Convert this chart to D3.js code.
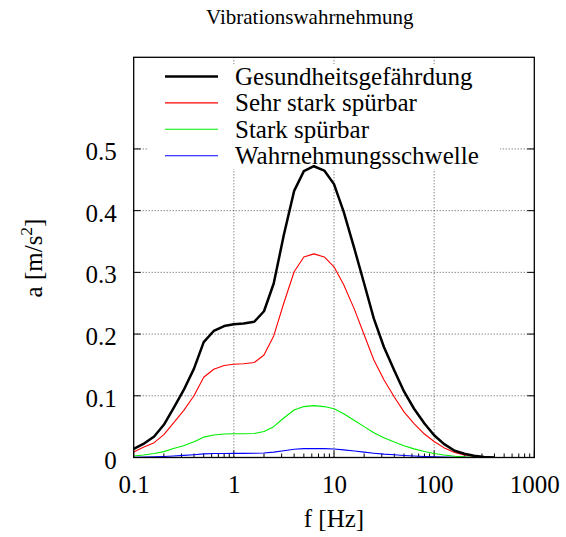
<!DOCTYPE html>
<html><head><meta charset="utf-8">
<script src="https://cdn.jsdelivr.net/npm/d3@7"></script>
<style>
body{margin:0;background:#fff;}
svg{display:block;font-family:"Liberation Serif","DejaVu Serif",serif;}
</style></head>
<body><svg id="c" width="566" height="537"></svg>
<script>
const freqs = [0.1,0.125,0.16,0.2,0.25,0.315,0.4,0.5,0.63,0.8,1,1.25,1.6,2,2.5,3.15,4,5,6.3,8,10,12.5,16,20,25,31.5,40,50,63,80,100,125,160,200,250,315,400];
const gesundheit = [0.014,0.022,0.034,0.053,0.080,0.109,0.144,0.187,0.205,0.213,0.216,0.217,0.220,0.237,0.282,0.360,0.432,0.464,0.472,0.465,0.443,0.398,0.338,0.282,0.225,0.179,0.141,0.107,0.079,0.055,0.036,0.022,0.011,0.006,0.003,0.001,0.0];
const sehrStark = [0.009,0.0165,0.024,0.037,0.056,0.076,0.100,0.130,0.143,0.149,0.151,0.152,0.154,0.166,0.197,0.250,0.301,0.325,0.330,0.325,0.309,0.280,0.240,0.199,0.158,0.126,0.098,0.074,0.055,0.038,0.026,0.016,0.008,0.004,0.002,0.001,0.0];
const stark = [0.0025,0.004,0.0065,0.0095,0.0145,0.019,0.0256,0.033,0.0365,0.038,0.0385,0.0386,0.039,0.042,0.050,0.064,0.077,0.0825,0.084,0.0825,0.079,0.071,0.060,0.050,0.040,0.032,0.025,0.019,0.014,0.0098,0.0065,0.004,0.002,0.001,0.0005,0.0002,0.0];
const schwelle = [0.0004,0.0007,0.001,0.0016,0.0025,0.0034,0.0045,0.0058,0.0064,0.0066,0.0067,0.0067,0.0068,0.0073,0.0087,0.011,0.0134,0.0144,0.0146,0.0144,0.0137,0.0123,0.0105,0.0087,0.007,0.0055,0.0044,0.0033,0.0025,0.0017,0.0011,0.0007,0.0003,0.0002,0.0001,0.0,0.0];
const seriesNames = ["Gesundheitsgefährdung","Sehr stark spürbar","Stark spürbar","Wahrnehmungsschwelle"];
const xTicks = [0.1,1,10,100,1000];
const xTickLabels = ["0.1","1","10","100","1000"];
const yTicks = [0,0.1,0.2,0.3,0.4,0.5];
const yTickLabels = ["0","0.1","0.2","0.3","0.4","0.5"];
const title = "Vibrationswahrnehmung";

const svg = d3.select("#c");
const L=133.7,R=534.3,T=57.3,B=457.5;
const x = d3.scaleLog().domain([0.1,1000]).range([L,R]);
const y = d3.scaleLinear().domain([0,0.6485]).range([B,T]);

// grid
const grid = svg.append("g").attr("stroke","#555").attr("stroke-width",1).attr("stroke-dasharray","1,2");
[1,10,100].forEach(v=>grid.append("line").attr("x1",x(v)).attr("x2",x(v)).attr("y1",T).attr("y2",B));
yTicks.slice(1).forEach(v=>grid.append("line").attr("x1",L).attr("x2",R).attr("y1",y(v)).attr("y2",y(v)));

// legend opaque box
svg.append("rect").attr("x",147).attr("y",64).attr("width",353).attr("height",105).attr("fill","#fff");

// minor ticks x
const minor = [];
for(let d=0.1; d<1000; d*=10){ for(let k=2;k<=9;k++) minor.push(d*k); }
const tk = svg.append("g").attr("stroke","#000").attr("stroke-width",1);
minor.forEach(v=>tk.append("line").attr("x1",x(v)).attr("x2",x(v)).attr("y1",B).attr("y2",B-4));
xTicks.forEach(v=>tk.append("line").attr("x1",x(v)).attr("x2",x(v)).attr("y1",B).attr("y2",B-7));
yTicks.forEach(v=>{
  tk.append("line").attr("x1",L).attr("x2",L+7).attr("y1",y(v)).attr("y2",y(v));
  tk.append("line").attr("x1",R).attr("x2",R-7).attr("y1",y(v)).attr("y2",y(v));
});

// axes labels via d3 axis
const xa = svg.append("g").attr("transform",`translate(0,${B})`)
  .call(d3.axisBottom(x).tickValues(xTicks).tickFormat((d,i)=>xTickLabels[i]).tickSize(0).tickPadding(17.5));
xa.select(".domain").remove();
xa.selectAll("text").attr("font-family","Liberation Serif").attr("font-size",25).attr("fill","#000");
const ya = svg.append("g").attr("transform",`translate(${L},0)`)
  .call(d3.axisLeft(y).tickValues(yTicks).tickFormat((d,i)=>yTickLabels[i]).tickSize(0).tickPadding(17));
ya.select(".domain").remove();
ya.selectAll("text").attr("font-family","Liberation Serif").attr("font-size",25).attr("fill","#000").attr("dy","0.42em");

// lines
const data = [gesundheit,sehrStark,stark,schwelle];
const colors = ["#000","#ff0000","#00ee00","#0000ff"];
const widths = [2.5,1.1,1.1,1.1];
const line = d3.line().x((d,i)=>x(freqs[i])).y(d=>y(d));
svg.append("clipPath").attr("id","pc").append("rect").attr("x",L).attr("y",T).attr("width",R-L).attr("height",B-T);
[3,2,1,0].forEach(s=>{
  svg.append("path").attr("d",line(data[s])).attr("fill","none").attr("stroke",colors[s]).attr("stroke-width",widths[s]).attr("stroke-linejoin","round").attr("clip-path","url(#pc)");
});

// frame
svg.append("rect").attr("x",L).attr("y",T).attr("width",R-L).attr("height",B-T).attr("fill","none").attr("stroke","#000").attr("stroke-width",1.3);

// legend
const lg = svg.append("g");
seriesNames.forEach((n,i)=>{
  const yy = 76.5 + i*26.4;
  lg.append("line").attr("x1",165).attr("x2",218).attr("y1",yy).attr("y2",yy).attr("stroke",colors[i]).attr("stroke-width",widths[i]);
  lg.append("text").attr("x",235).attr("y",yy+8.5).attr("font-size",25).text(n);
});

// title
svg.append("text").attr("x",206).attr("y",24).attr("font-size",21).text(title);
// x label
svg.append("text").attr("x",334).attr("y",527).attr("text-anchor","middle").attr("font-size",25).text("f [Hz]");
// y label
const yl = svg.append("text").attr("transform","translate(42,258) rotate(-90)").attr("text-anchor","middle").attr("font-size",25);
yl.append("tspan").text("a [m/s");
yl.append("tspan").attr("dy",-10).attr("font-size",17.5).text("2");
yl.append("tspan").attr("dy",10).text("]");
</script></body></html>
